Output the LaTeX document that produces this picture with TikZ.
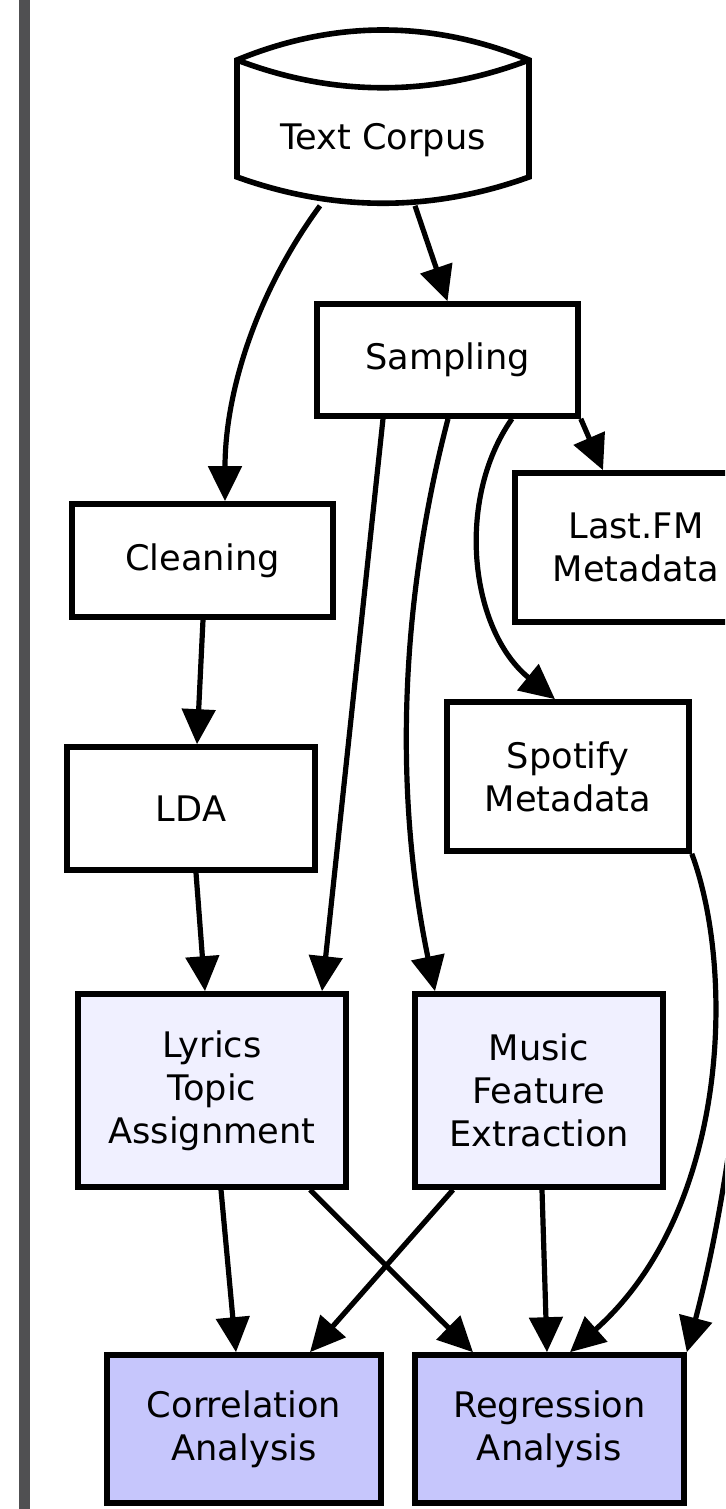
\documentclass[tikz,border=0pt]{standalone}
\usepackage{fontspec}
\setmainfont{DejaVu Sans}
\usetikzlibrary{arrows.meta,calc}
\definecolor{barcol}{RGB}{80,80,82}
\definecolor{lightfill}{RGB}{240,240,255}
\definecolor{darkfill}{RGB}{198,198,252}
\tikzset{
  box/.style={draw, line width=2.8pt, rectangle, align=center, inner sep=0pt,
    font=\fontsize{17.6pt}{21.5pt}\selectfont},
  edge/.style={line width=2.6pt, -{Triangle[length=17.5pt,width=16.5pt]}},
  cyl/.style={line width=2.8pt, line join=miter}
}
\begin{document}
\begin{tikzpicture}[x=0.5pt,y=-0.5pt]
\useasboundingbox (0,0) rectangle (725,1509);
\clip (0,0) rectangle (725,1509);
\fill[barcol] (19,0) rectangle (30,1509);
% cylinder
\draw[cyl] (237,60) -- (237,177) .. controls (334,212) and (432,212) .. (529,177) -- (529,60) .. controls (432,20) and (334,20) .. cycle;
\draw[cyl] (237,60) .. controls (334,97) and (432,97) .. (529,60);
\node[box, draw=none, minimum width=146pt, minimum height=63pt] (corpus) at (383,140) {Text Corpus};
% boxes
\node[box, minimum width=130.5pt, minimum height=56pt] (sampling) at (447.5,360) {Sampling};
\node[box, minimum width=130.5pt, minimum height=56.5pt] (cleaning) at (202.5,560.5) {Cleaning};
\node[box, minimum width=121pt, minimum height=74.5pt] (lastfm) at (636,547.5) {Last.FM\\Metadata};
\node[box, minimum width=121pt, minimum height=74.5pt] (spotify) at (568,776.5) {Spotify\\Metadata};
\node[box, minimum width=124pt, minimum height=61.5pt] (lda) at (191,808.5) {LDA};
\node[box, fill=lightfill, minimum width=134pt, minimum height=96.5pt] (lyrics) at (212,1090.5) {Lyrics\\Topic\\Assignment};
\node[box, fill=lightfill, minimum width=124pt, minimum height=96.5pt] (music) at (539,1090.5) {Music\\Feature\\Extraction};
\node[box, fill=darkfill, minimum width=137pt, minimum height=74pt] (corr) at (244,1429) {Correlation\\Analysis};
\node[box, fill=darkfill, minimum width=134.5pt, minimum height=74pt] (regr) at (549.5,1429) {Regression\\Analysis};
% edges
\draw[edge] ($(corpus.south)+(-63,0)$) .. controls (258,290) and (225,390) .. ($(cleaning.north)+(22.5,0)$);
\draw[edge] ($(corpus.south)+(32,0)$) -- (sampling.north);
\draw[edge] (sampling.south east) -- ($(lastfm.north)+(-33,0)$);
\draw[edge] ($(sampling.south)+(64.5,0)$) .. controls (455,500) and (470,630) .. ($(spotify.north)+(-13,0)$);
\draw[edge] ($(sampling.south)+(-64.5,0)$) -- ($(lyrics.north)+(110,0)$);
\draw[edge] ($(sampling.south)+(0.5,0)$) .. controls (398,610) and (395,800) .. ($(music.north)+(-104,0)$);
\draw[edge] ($(cleaning.south)+(0.5,0)$) -- ($(lda.north)+(6,0)$);
\draw[edge] ($(lda.south)+(5,0)$) -- ($(lyrics.north)+(-7,0)$);
\draw[edge] ($(lyrics.south)+(9,0)$) -- ($(corr.north)+(-8,0)$);
\draw[edge] ($(lyrics.south)+(98,0)$) -- ($(regr.north)+(-76.5,0)$);
\draw[edge] ($(music.south)+(-86,0)$) -- ($(corr.north)+(66,0)$);
\draw[edge] ($(music.south)+(3,0)$) -- ($(regr.north)+(-2.5,0)$);
\draw[edge] (spotify.south east) .. controls (735,970) and (730,1210) .. ($(regr.north)+(20.5,0)$);
\draw[edge] ($(lastfm.south)+(109,0)$) .. controls (765,900) and (740,1150) .. (regr.north east);
\end{tikzpicture}
\end{document}
